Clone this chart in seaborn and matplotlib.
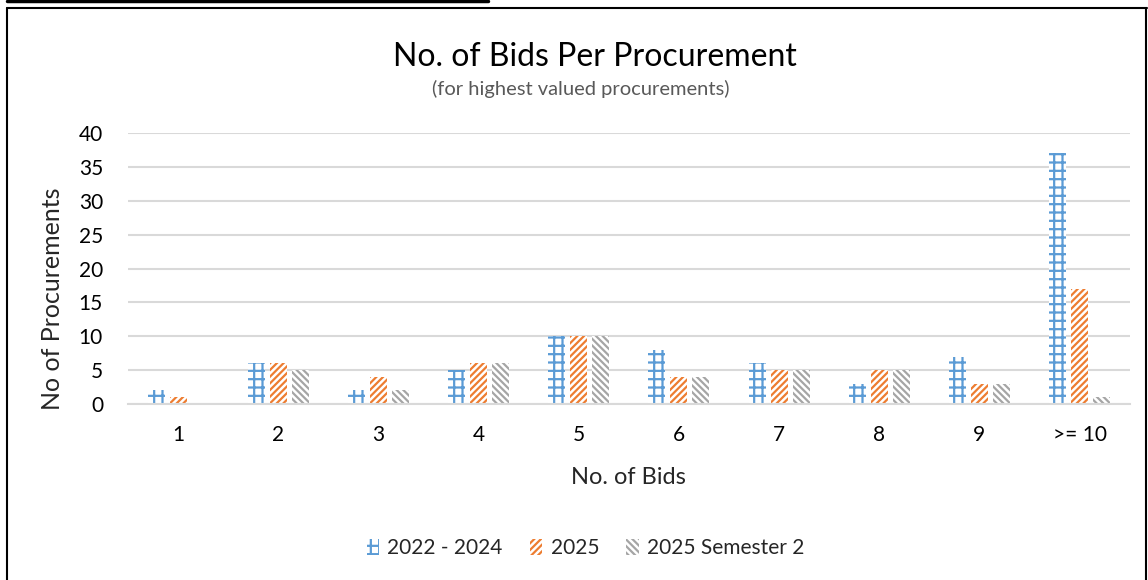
import matplotlib
matplotlib.use("Agg")
import matplotlib.pyplot as plt
from matplotlib.patches import Patch
from matplotlib.lines import Line2D
import pandas as pd
import seaborn as sns

# values
categories = ["1", "2", "3", "4", "5", "6", "7", "8", "9", ">= 10"]
series_names = ["2022 - 2024", "2025", "2025 Semester 2"]
vals_2022_2024 = [2, 6, 2, 5, 10, 8, 6, 3, 7, 37]
vals_2025 = [1, 6, 4, 6, 10, 4, 5, 5, 3, 17]
vals_2025_s2 = [0, 5, 2, 6, 10, 4, 5, 5, 3, 1]

colors = ["#5B9BD5", "#ED7D31", "#A5A5A5"]
hatches = ["++", "/////", "\\\\\\\\\\"]

rows = []
for name, vals in zip(series_names, [vals_2022_2024, vals_2025, vals_2025_s2]):
    for c, v in zip(categories, vals):
        rows.append({"bids": c, "series": name, "count": v})
df = pd.DataFrame(rows)

sns.set_style("white")
plt.rcParams["font.family"] = ["Lato", "DejaVu Sans"]
plt.rcParams["hatch.linewidth"] = 1.6

fig = plt.figure(figsize=(11.48, 5.8), dpi=100)
ax = fig.add_axes([0.1115, 0.3034, 0.8725, 0.4673])

sns.barplot(data=df, x="bids", y="count", hue="series", order=categories,
            hue_order=series_names, palette=colors, width=0.66, gap=0.23,
            ax=ax, legend=False, errorbar=None)

for cont, col, h in zip(ax.containers, colors, hatches):
    for bar in cont:
        bar.set_facecolor("white")
        bar.set_edgecolor(col)
        bar.set_hatch(h)
        bar.set_linewidth(0)

ax.set_ylim(0, 40)
ax.set_yticks(range(0, 41, 5))
ax.set_xlim(-0.5, 9.5)
ax.yaxis.grid(True, color="#D9D9D9", linewidth=1.5)
ax.set_axisbelow(True)
for s in ["top", "right", "left"]:
    ax.spines[s].set_visible(False)
ax.spines["bottom"].set_color("#D9D9D9")
ax.spines["bottom"].set_linewidth(1.5)
ax.tick_params(axis="both", length=0, labelsize=15, colors="black")
ax.tick_params(axis="x", pad=15)
ax.tick_params(axis="y", pad=18)
ax.set_xlabel("No. of Bids", fontsize=17, labelpad=16)
ax.set_ylabel("No of Procurements", fontsize=18)
ax.yaxis.set_label_coords(-0.064, 0.387)

fig.text(0.518, 0.902, "No. of Bids Per Procurement", ha="center", va="center",
         fontsize=23, color="black")
fig.text(0.506, 0.847, "(for highest valued procurements)", ha="center", va="center",
         fontsize=14.5, color="#595959")

handles = [Patch(facecolor="white", edgecolor=c, hatch=h, linewidth=0)
           for c, h in zip(colors, hatches)]
fig.legend(handles, series_names, loc="center", bbox_to_anchor=(0.51, 0.055), ncol=3,
           frameon=False, fontsize=15, handlelength=0.6, handleheight=0.8,
           handletextpad=0.4, columnspacing=1.3)

# surrounding frame from the screenshot
W, H = 1148, 580
fig.add_artist(Line2D([7 / W, 488 / W], [1 - 1 / H, 1 - 1 / H], color="black", lw=2.5,
                      transform=fig.transFigure))
fig.add_artist(Line2D([7 / W, 1147 / W], [1 - 8 / H, 1 - 8 / H], color="black", lw=1.5,
                      transform=fig.transFigure))
fig.add_artist(Line2D([7 / W, 7 / W], [0, 1 - 8 / H], color="black", lw=1.5,
                      transform=fig.transFigure))
fig.add_artist(Line2D([1146 / W, 1146 / W], [0, 1 - 8 / H], color="black", lw=1.5,
                      transform=fig.transFigure))

fig.savefig("out.png", dpi=100)
